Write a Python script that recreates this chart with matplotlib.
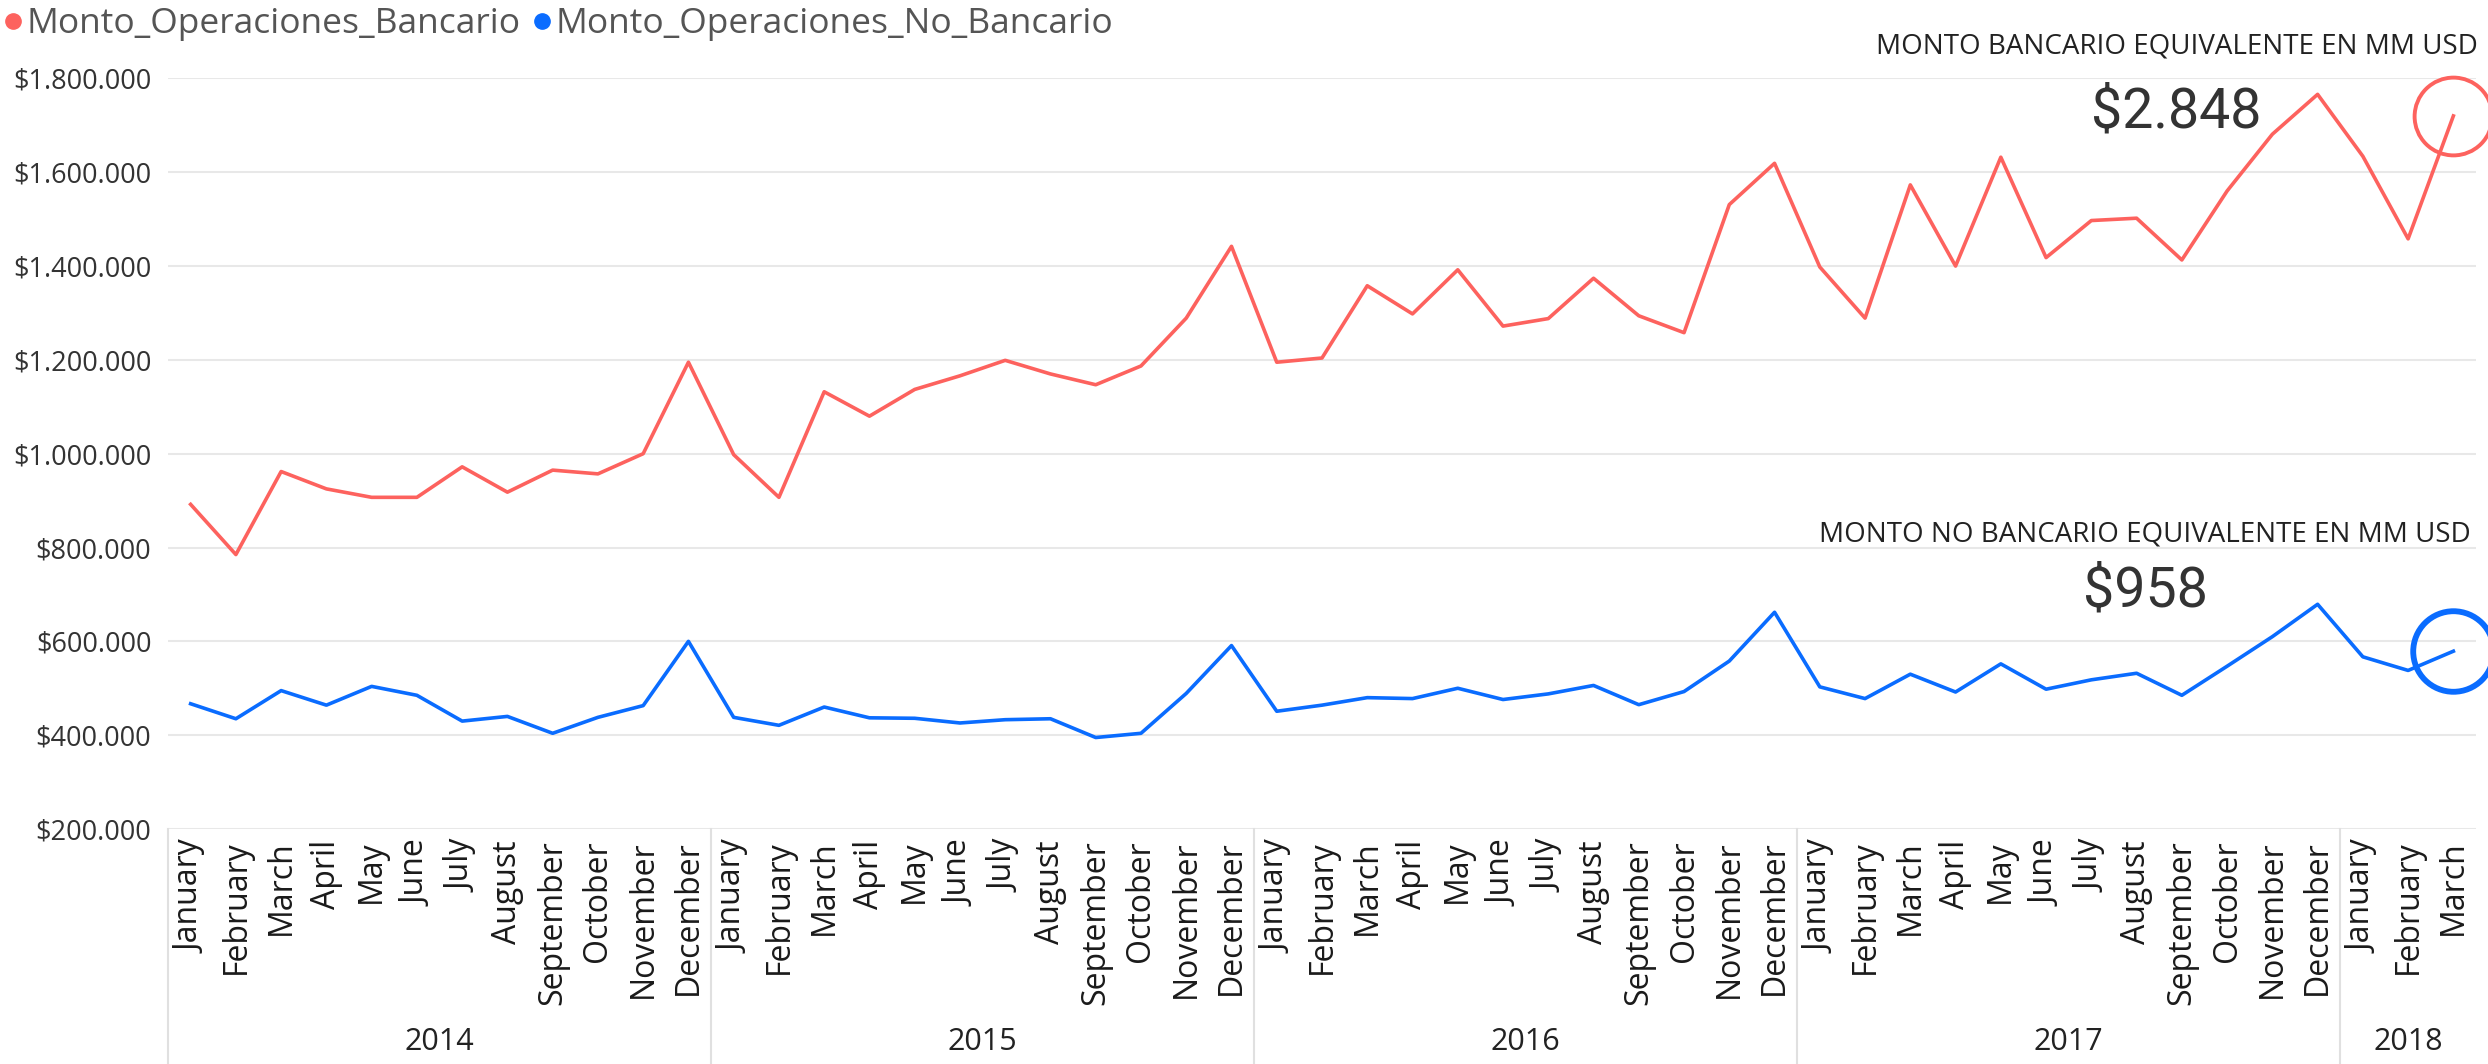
import matplotlib
matplotlib.use("Agg")
import matplotlib.pyplot as plt
from matplotlib.lines import Line2D
from matplotlib.ticker import FuncFormatter

plt.rcParams["font.family"] = ["Open Sans", "DejaVu Sans"]

MONTHS = ["January", "February", "March", "April", "May", "June", "July",
          "August", "September", "October", "November", "December"]
YEARS = [2014, 2015, 2016, 2017, 2018]
MONTHS_PER_YEAR = [12, 12, 12, 12, 3]

# values
bancario = [892000, 785000, 962000, 925000, 907000, 907000, 972000, 918000, 965000, 957000, 1000000, 1195000,
            998000, 907000, 1132000, 1080000, 1137000, 1166000, 1199000, 1170000, 1147000, 1187000, 1289000, 1442000,
            1195000, 1204000, 1358000, 1298000, 1392000, 1272000, 1288000, 1374000, 1294000, 1258000, 1531000, 1619000,
            1398000, 1289000, 1573000, 1400000, 1632000, 1418000, 1497000, 1502000, 1413000, 1560000, 1681000, 1766000,
            1634000, 1458000, 1720000]
no_bancario = [467000, 435000, 495000, 464000, 504000, 485000, 430000, 440000, 404000, 438000, 463000, 600000,
               438000, 421000, 460000, 437000, 436000, 426000, 433000, 435000, 395000, 404000, 489000, 591000,
               451000, 464000, 480000, 478000, 500000, 476000, 488000, 506000, 465000, 493000, 558000, 662000,
               503000, 478000, 530000, 492000, 552000, 498000, 518000, 532000, 485000, 547000, 610000, 679000,
               567000, 538000, 579000]
total_bancario = "$2.848"
total_no_bancario = "$958"

RED = "#FD625E"
BLUE = "#0A6CFF"


def money(v, _):
    return "$" + f"{v:,.0f}".replace(",", ".")


month_labels = []
for n in MONTHS_PER_YEAR:
    month_labels += MONTHS[:n]
x = list(range(len(month_labels)))

W, H = 2488, 1064
fig = plt.figure(figsize=(W / 100, H / 100), dpi=100)
ax = fig.add_axes([168 / W, 235 / H, (2476 - 168) / W, (829 - 78.4) / H])

ax.plot(x, bancario, color=RED, lw=2.6)
ax.plot(x, no_bancario, color=BLUE, lw=2.6)

# circles on the last month
ax.plot(x[-1], bancario[-1], marker="o", ms=56, mfc="none", mec=RED, mew=2.8, clip_on=False)
ax.plot(x[-1], no_bancario[-1], marker="o", ms=58, mfc="none", mec=BLUE, mew=4.2, clip_on=False)

ax.set_xlim(-0.5, len(x) - 0.5)
ax.set_ylim(200000, 1800000)
ax.set_yticks(range(200000, 1800001, 200000))
ax.yaxis.set_major_formatter(FuncFormatter(money))
ax.yaxis.grid(True, color="#E8E8E8", lw=1.5)
ax.set_axisbelow(True)
for s in ax.spines.values():
    s.set_visible(False)

ax.set_xticks(x)
ax.set_xticklabels(month_labels, rotation=90, fontsize=23, color="#1A1A1A")
ax.tick_params(axis="x", length=0, pad=8)
ax.tick_params(axis="y", length=0, pad=12, labelsize=19.5, labelcolor="#333333")

# year groups under the month labels
trans = ax.get_xaxis_transform()
start = 0
for year, n in zip(YEARS, MONTHS_PER_YEAR):
    ax.plot([start - 0.5, start - 0.5], [0, -0.315], transform=trans,
            color="#E0E0E0", lw=1.5, clip_on=False)
    ax.text(start + (n - 1) / 2, -0.284, str(year), transform=trans,
            ha="center", va="center", fontsize=22, color="#222222")
    start += n

handles = [Line2D([], [], ls="none", marker="o", ms=11, color=RED),
           Line2D([], [], ls="none", marker="o", ms=11, color=BLUE)]
fig.legend(handles, ["Monto_Operaciones_Bancario", "Monto_Operaciones_No_Bancario"],
           loc="upper left", bbox_to_anchor=(0.002, 0.993), ncol=2, frameon=False,
           fontsize=25.5, labelcolor="#555555", handlelength=0.45, handletextpad=0.15,
           columnspacing=0.4, borderaxespad=0, borderpad=0)

fig.text(2478 / W, 1 - 46 / H, "MONTO BANCARIO EQUIVALENTE EN MM USD",
         ha="right", va="center", fontsize=20, color="#222222")
fig.text(2176 / W, 1 - 112 / H, total_bancario, ha="center", va="center",
         fontsize=40, family="Roboto", color="#333333")
fig.text(2471 / W, 1 - 534 / H, "MONTO NO BANCARIO EQUIVALENTE EN MM USD",
         ha="right", va="center", fontsize=20, color="#222222")
fig.text(2145 / W, 1 - 591 / H, total_no_bancario, ha="center", va="center",
         fontsize=40, family="Roboto", color="#333333")

fig.savefig("out.png", dpi=100)
